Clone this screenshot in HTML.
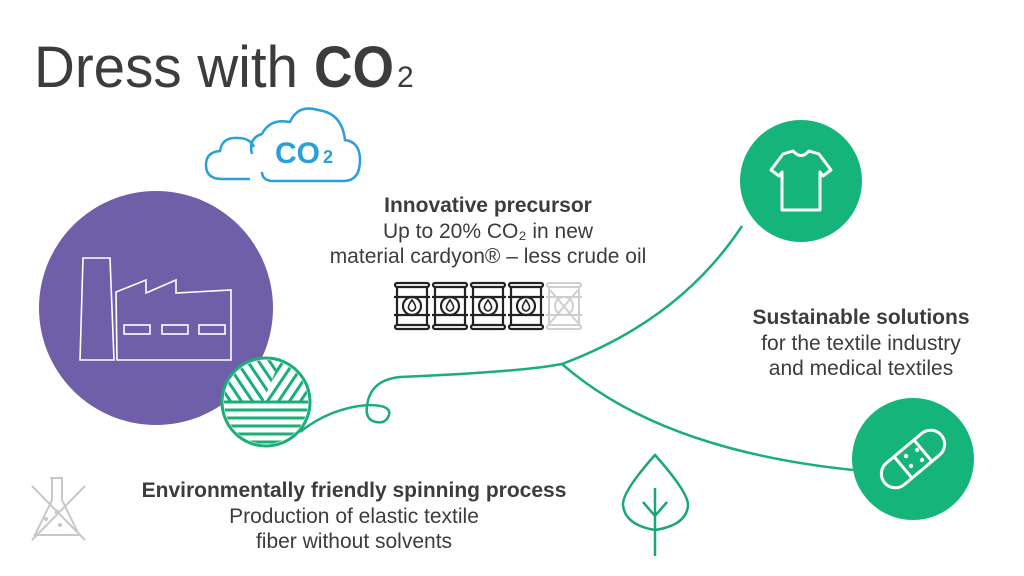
<!DOCTYPE html>
<html><head><meta charset="utf-8"><style>
html,body{margin:0;padding:0;background:#fff;width:1024px;height:576px;overflow:hidden}
svg{display:block}
text{font-family:"Liberation Sans",sans-serif;fill:#3c3c3c}
</style></head><body>
<svg width="1024" height="576" viewBox="0 0 1024 576" xmlns="http://www.w3.org/2000/svg">
<defs>
<clipPath id="yc"><circle cx="266" cy="402" r="42"/></clipPath>
<clipPath id="yl"><polygon points="215,345 286,345 263,402 215,402"/></clipPath>
<clipPath id="yr"><polygon points="286,345 320,345 320,402 263,402"/></clipPath>
</defs>
<text x="34" y="87" font-size="58" textLength="264" lengthAdjust="spacingAndGlyphs">Dress with</text>
<text x="314" y="87" font-size="58" font-weight="bold" textLength="80" lengthAdjust="spacingAndGlyphs">CO</text>
<text x="397" y="87" font-size="30">2</text>

<!-- cloud -->
<g fill="none" stroke="#2a9fd8" stroke-width="2.5">
<path d="M250,179 L222,179 Q206,179 206,165 Q206,152 220,151 Q222,137 238,138 Q250,138 254,147"/>
<path d="M262,172 Q262,180 272,181 L345,181 Q360,180 360,160 Q360,142 345,140 Q342,113 318,110 Q298,104 290,122 Q270,118 262,134 Q248,138 252,154"/>
</g>
<text x="275" y="163" font-size="30" font-weight="bold" style="fill:#2a9fd8">CO</text>
<text x="323" y="163" font-size="18" font-weight="bold" style="fill:#2a9fd8">2</text>

<!-- purple circle -->
<circle cx="156" cy="308" r="117" fill="#6f5fa8"/>
<g fill="none" stroke="#fff" stroke-width="1.6">
<path d="M80,360 L83,258 L110,258 L114,360 Z"/>
<path d="M117,360 L116,292 L146,280 L146,293 L176,280 L176,293 L231,290 L231,360 Z"/>
<rect x="124" y="325" width="26" height="9"/>
<rect x="162" y="325" width="26" height="9"/>
<rect x="199" y="325" width="26" height="9"/>
</g>

<!-- yarn -->
<circle cx="266" cy="402" r="44" fill="#fff" stroke="#1aae78" stroke-width="3"/>
<g clip-path="url(#yc)" stroke="#1aae78" stroke-width="3">
<g clip-path="url(#yl)">
<path d="M196,350 L231,402 M207,350 L242,402 M218,350 L253,402 M229,350 L264,402 M240,350 L275,402 M251,350 L286,402 M262,350 L297,402 M273,350 L308,402"/>
</g>
<g clip-path="url(#yr)">
<path d="M280,350 L245,402 M291,350 L256,402 M302,350 L267,402 M313,350 L278,402 M324,350 L289,402 M335,350 L300,402 M346,350 L311,402"/>
</g>
<path d="M220,402 H312 M220,410 H312 M220,418 H312 M220,426 H312 M220,434 H312 M220,442 H312"/>
</g>

<!-- curve -->
<g fill="none" stroke="#1aae78" stroke-width="2.5">
<path d="M300,432 Q330,408 368,405 Q392,405 389,415 Q386,424 376,422 Q365,420 367,406 Q370,380 400,377 Q520,372 562,364 Q680,320 742,226"/>
<path d="M562,364 Q660,450 853,470"/>
</g>

<!-- shirt circle -->
<circle cx="801" cy="181" r="61" fill="#14b47a"/>
<path d="M783,154 L793,151 Q801,160 809,151 L819,154 L831,170 L823,176 L820,172 L820,210 L782,210 L782,172 L779,176 L771,170 Z" fill="none" stroke="#fff" stroke-width="3" stroke-linejoin="round"/>

<!-- bandaid circle -->
<circle cx="913" cy="459" r="61" fill="#14b47a"/>
<g transform="rotate(-40 913 459)" fill="none" stroke="#fff" stroke-width="3">
<rect x="876" y="445" width="74" height="28" rx="14"/>
<path d="M900,445 V473 M926,445 V473"/>
</g>
<g fill="#fff"><circle cx="906" cy="456" r="2.2"/><circle cx="917" cy="450" r="2.2"/><circle cx="911" cy="466" r="2.2"/><circle cx="922" cy="460" r="2.2"/></g>

<!-- leaf -->
<g fill="none" stroke="#1aa57a" stroke-width="2.5">
<path d="M655,455 Q622,492 623,505 Q625,525 655,530 Q687,525 688,505 Q688,492 655,455 Z"/>
<path d="M655,488 V556 M643,502 L655,516 L667,502"/>
</g>

<!-- flask -->
<g fill="none" stroke="#c8c8c8" stroke-width="2">
<path d="M50,478 H63 M52,478 V500 L35,535 H79 L62,500 V478"/>
<path d="M32,486 L85,540 M85,486 L32,540"/>
</g>
<g fill="#c8c8c8"><circle cx="46" cy="519" r="2"/><circle cx="57" cy="512" r="2.5"/><circle cx="60" cy="525" r="2"/></g>

<!-- barrels -->
<g fill="none" stroke="#222" stroke-width="2.2">
<g id="b">
<rect x="395" y="283" width="34" height="4" rx="2"/>
<rect x="395" y="325" width="34" height="4" rx="2"/>
<path d="M397,287 V325 M427,287 V325 M394,297 H430 M394,315 H430"/>
<circle cx="412" cy="306" r="9"/>
<path d="M412,300 Q407,307 409,309 Q412,313 415,309 Q417,307 412,300 Z" stroke-width="1.6"/>
</g>
<use href="#b" x="38"/><use href="#b" x="76"/><use href="#b" x="114"/>
</g>
<g fill="none" stroke="#cfcfcf" stroke-width="2" transform="translate(152 0)">
<rect x="395" y="283" width="34" height="4" rx="2"/>
<rect x="395" y="325" width="34" height="4" rx="2"/>
<path d="M397,287 V325 M427,287 V325 M394,297 H430 M394,315 H430"/>
<circle cx="412" cy="306" r="9"/>
<path d="M398,290 L426,323 M426,290 L398,323"/>
</g>

<!-- texts -->
<g font-size="21" text-anchor="middle">
<text x="488" y="212" font-weight="bold">Innovative precursor</text>
<text x="488" y="238">Up to 20% CO₂ in new</text>
<text x="488" y="263">material cardyon® – less crude oil</text>
<text x="861" y="324" font-weight="bold">Sustainable solutions</text>
<text x="861" y="350">for the textile industry</text>
<text x="861" y="375">and medical textiles</text>
<text x="354" y="497" font-weight="bold">Environmentally friendly spinning process</text>
<text x="354" y="523">Production of elastic textile</text>
<text x="354" y="548">fiber without solvents</text>
</g>
</svg>
</body></html>
